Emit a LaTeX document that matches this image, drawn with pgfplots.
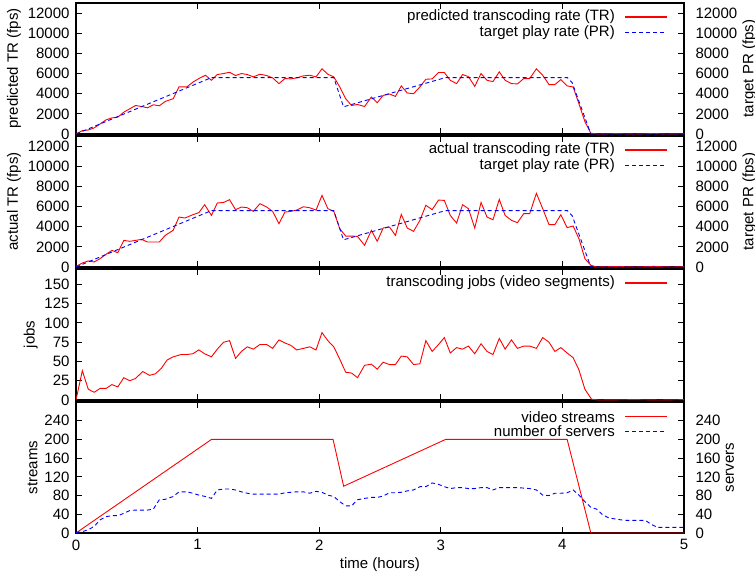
\documentclass[border=0pt]{standalone}
\usepackage{pgfplots}
\pgfplotsset{compat=1.18}
\usepackage{fontspec}
\setmainfont{Liberation Sans}

\newcommand{\fs}{\fontsize{15bp}{18bp}\selectfont}
\tikzset{
 rline/.style={draw=red, line width=0.9bp},
 bline/.style={draw=blue, line width=0.9bp, dash pattern=on 4bp off 3bp},
 legtext/.style={anchor=east, font=\fs, inner sep=0pt},
}
\pgfplotsset{
 panel/.style={
  scale only axis, width=608bp, height=131bp, xmin=0, xmax=5,
  axis line style={line width=1.5bp},
  tick style={line width=0.9bp, black}, major tick length=6bp,
  tick align=inside,
  xtick={0,1,2,3,4,5},
  scaled ticks=false,
  /pgf/number format/assume math mode=true,
  /pgf/number format/1000 sep={},
  tick label style={font=\fs},
  label style={font=\fs},
  yticklabel style={xshift=-3bp},
  xticklabel style={yshift=-3bp},
 },
 rightax/.style={
  scale only axis, width=608bp, height=131bp, xmin=0, xmax=5,
  hide x axis,
  axis line style={line width=1.5bp},
  tick style={line width=0.9bp, black}, major tick length=6bp,
  tick align=inside,
  scaled ticks=false,
  ytick pos=right, yticklabel pos=right, ylabel near ticks,
  /pgf/number format/assume math mode=true,
  /pgf/number format/1000 sep={},
  tick label style={font=\fs},
  label style={font=\fs},
  yticklabel style={xshift=8bp},
  ylabel style={yshift=1.5bp},
 },
}
% legend helpers: #1 = row y (rel axis), #2 = style, #3 = text
\newcommand{\legrow}[3]{%
  \draw[#2, line width=1.3bp] (rel axis cs:0.903,#1) -- (rel axis cs:0.972,#1);
  \node[legtext] at (rel axis cs:0.8865,#1) {#3};}

\begin{document}
\begin{tikzpicture}
\useasboundingbox (0,0) rectangle (755bp,-574bp);

% ---------- Panel 1 ----------
\begin{axis}[rightax, at={(76bp,-3bp)}, anchor=north west,
  ymin=0, ymax=13000, ytick={0,2000,...,12000}, ylabel={target PR (fps)}]
\end{axis}
\begin{axis}[panel, at={(76bp,-3bp)}, anchor=north west,
  ymin=0, ymax=13000, ytick={0,2000,...,12000}, xticklabels={},
  ylabel={predicted TR (fps)}]
\addplot[rline] coordinates {(0,0)(0.052,333)(0.101,400)(0.149,600)(0.198,1000)(0.247,1400)(0.295,1600)(0.344,1670)(0.393,2170)(0.442,2500)(0.490,2830)(0.539,2730)(0.588,2600)(0.636,2900)(0.685,2800)(0.734,3230)(0.799,3500)(0.847,4670)(0.912,4670)(0.964,5170)(1.010,5500)(1.065,5830)(1.114,5330)(1.162,5900)(1.214,6000)(1.263,6130)(1.312,5800)(1.360,6000)(1.409,5900)(1.458,5670)(1.513,5930)(1.568,5800)(1.617,5570)(1.669,5000)(1.718,5500)(1.766,5470)(1.815,5570)(1.870,5770)(1.922,5830)(1.974,5670)(2.023,6470)(2.071,5930)(2.120,5670)(2.169,4670)(2.218,3500)(2.266,2830)(2.315,2930)(2.373,2730)(2.429,3670)(2.477,3100)(2.526,3830)(2.578,3970)(2.627,3730)(2.675,4770)(2.724,4070)(2.776,4000)(2.828,4670)(2.877,5430)(2.929,5470)(2.981,6100)(3.029,6100)(3.078,5330)(3.130,5000)(3.179,5900)(3.227,5700)(3.279,4730)(3.331,6000)(3.380,5330)(3.429,5200)(3.481,6170)(3.529,5330)(3.581,5000)(3.630,4970)(3.682,5500)(3.731,5500)(3.786,6470)(3.838,5830)(3.890,4900)(3.938,4900)(3.987,5400)(4.039,4770)(4.088,4670)(4.136,3000)(4.185,1230)(4.234,70)(4.3,0)(4.45,40)(4.6,0)(4.75,50)(4.85,0)(5,30)};
\addplot[bline] coordinates {(0,0)(1.114,5600)(2.12,5600)(2.2,2700)(3.039,5600)(4.04,5600)(4.08,5100)(4.234,0)(5,0)};
\legrow{0.893}{rline}{predicted transcoding rate (TR)}
\legrow{0.775}{bline}{target play rate (PR)}
\end{axis}

% ---------- Panel 2 ----------
\begin{axis}[rightax, at={(76bp,-136bp)}, anchor=north west,
  ymin=0, ymax=13000, ytick={0,2000,...,12000}, ylabel={target PR (fps)}]
\end{axis}
\begin{axis}[panel, at={(76bp,-136bp)}, anchor=north west,
  ymin=0, ymax=13000, ytick={0,2000,...,12000}, xticklabels={},
  ylabel={actual TR (fps)}]
\addplot[rline] coordinates {(0,50)(0.052,400)(0.101,600)(0.149,500)(0.198,830)(0.247,1260)(0.295,1650)(0.344,1420)(0.393,2640)(0.442,2550)(0.490,2640)(0.539,2740)(0.588,2480)(0.636,2480)(0.685,2480)(0.734,3140)(0.799,3640)(0.847,4960)(0.896,4860)(0.961,5190)(1.010,5390)(1.058,6180)(1.114,5120)(1.162,6350)(1.214,6410)(1.263,6680)(1.312,5690)(1.360,5950)(1.409,5880)(1.458,5520)(1.513,6280)(1.568,5950)(1.617,5520)(1.669,4300)(1.718,5450)(1.766,5520)(1.815,5650)(1.870,5980)(1.922,5880)(1.974,5650)(2.023,7110)(2.071,5790)(2.120,5520)(2.169,3800)(2.218,3070)(2.266,3070)(2.315,3040)(2.373,2150)(2.429,3640)(2.477,2550)(2.526,3870)(2.578,3970)(2.627,3140)(2.675,5220)(2.724,3870)(2.776,3540)(2.828,4630)(2.877,6120)(2.929,5690)(2.981,6640)(3.029,6610)(3.078,5120)(3.130,4360)(3.179,6180)(3.227,5790)(3.279,3870)(3.331,6410)(3.380,4960)(3.429,4690)(3.481,6710)(3.529,5120)(3.581,4630)(3.630,4400)(3.682,5290)(3.731,5290)(3.786,7310)(3.838,5790)(3.890,4200)(3.938,4200)(3.987,5190)(4.039,3900)(4.088,4070)(4.136,2810)(4.185,830)(4.234,170)(4.282,0)(4.45,50)(4.6,0)(4.75,60)(4.9,0)(5,40)};
\addplot[bline] coordinates {(0,0)(1.114,5600)(2.12,5600)(2.2,2700)(3.039,5600)(4.04,5600)(4.08,5100)(4.234,0)(5,0)};
\legrow{0.893}{rline}{actual transcoding rate (TR)}
\legrow{0.776}{bline}{target play rate (PR)}
\end{axis}

% ---------- Panel 3 ----------
\begin{axis}[panel, at={(76bp,-269bp)}, anchor=north west,
  ymin=0, ymax=170, ytick={0,25,...,150}, xticklabels={},
  ylabel={jobs}]
\addplot[rline] coordinates {(0,0)(0.052,38)(0.101,14)(0.149,10)(0.198,15)(0.247,15)(0.295,20)(0.344,17)(0.393,29)(0.442,25)(0.490,28)(0.549,37)(0.604,32)(0.653,34)(0.701,41)(0.750,52)(0.799,56)(0.864,59)(0.912,59)(0.961,60)(1.010,65)(1.058,60)(1.114,56)(1.162,66)(1.214,75)(1.263,77)(1.312,54)(1.360,63)(1.409,69)(1.458,66)(1.513,72)(1.568,72)(1.617,67)(1.669,78)(1.718,74)(1.766,71)(1.815,65)(1.870,67)(1.922,69)(1.974,65)(2.023,87.5)(2.071,77)(2.120,69)(2.169,53)(2.218,36)(2.266,35)(2.315,29)(2.373,45)(2.429,46.5)(2.477,40)(2.526,49)(2.578,46)(2.627,46)(2.675,57)(2.724,56)(2.776,46)(2.828,47)(2.877,77)(2.929,63)(2.981,72)(3.029,81)(3.078,61)(3.130,68)(3.179,66)(3.227,70)(3.279,60)(3.331,73)(3.380,63)(3.429,59)(3.481,80)(3.529,66)(3.581,78)(3.630,67)(3.682,70)(3.731,70)(3.786,67)(3.838,81)(3.890,75)(3.938,63)(3.987,68)(4.039,61)(4.088,55)(4.136,39)(4.185,14)(4.240,1)(4.3,0)(4.6,0.5)(4.8,0)(5,0.5)};
\legrow{0.893}{rline}{transcoding jobs (video segments)}
\end{axis}

% ---------- Panel 4 ----------
\begin{axis}[rightax, at={(76bp,-402bp)}, anchor=north west,
  ymin=0, ymax=280, ytick={0,40,...,240}, ylabel={servers}]
\end{axis}
\begin{axis}[panel, at={(76bp,-402bp)}, anchor=north west,
  ymin=0, ymax=280, ytick={0,40,...,240},
  xlabel={time (hours)}, ylabel={streams},
  xlabel style={yshift=-1bp}]
\addplot[rline] coordinates {(0,0)(1.114,200)(2.114,200)(2.201,100)(3.039,200)(4.039,200)(4.234,0)(5,0)};
\addplot[bline] coordinates {(0,1)(0.052,3)(0.101,7)(0.149,14)(0.198,28)(0.247,35)(0.295,37)(0.344,37)(0.393,42)(0.442,48)(0.490,49)(0.539,49)(0.588,49)(0.636,51)(0.685,71)(0.734,72)(0.799,78)(0.847,88)(0.912,88)(0.961,85)(1.010,81)(1.065,78)(1.114,74)(1.162,92)(1.214,94)(1.263,94)(1.312,92)(1.360,88)(1.409,85)(1.458,83)(1.513,83)(1.568,83)(1.617,83)(1.669,83)(1.718,86)(1.766,87)(1.815,88)(1.870,88)(1.922,85)(1.974,89)(2.023,87)(2.071,81)(2.120,78)(2.169,67)(2.218,58)(2.266,58)(2.315,71)(2.373,74)(2.429,76)(2.477,76)(2.526,79)(2.578,86)(2.627,86)(2.675,87)(2.724,90)(2.776,92)(2.828,99)(2.877,99)(2.929,107)(2.981,104)(3.029,99)(3.078,95)(3.130,97)(3.179,97)(3.227,95)(3.279,95)(3.331,97)(3.380,97)(3.429,92)(3.481,97)(3.529,97)(3.581,97)(3.630,97)(3.682,96)(3.731,95)(3.786,92)(3.838,81)(3.890,80)(3.938,85)(3.987,85)(4.039,86)(4.088,92)(4.136,81)(4.185,67)(4.234,55)(4.282,51)(4.331,39)(4.383,32)(4.435,30)(4.484,28)(4.532,27)(4.584,27)(4.633,27)(4.682,27)(4.734,18)(4.782,12)(4.834,12)(4.883,12)(4.935,12)(5,12)};
\legrow{0.888}{rline}{video streams}
\legrow{0.774}{bline}{number of servers}
\end{axis}
\end{tikzpicture}
\end{document}
